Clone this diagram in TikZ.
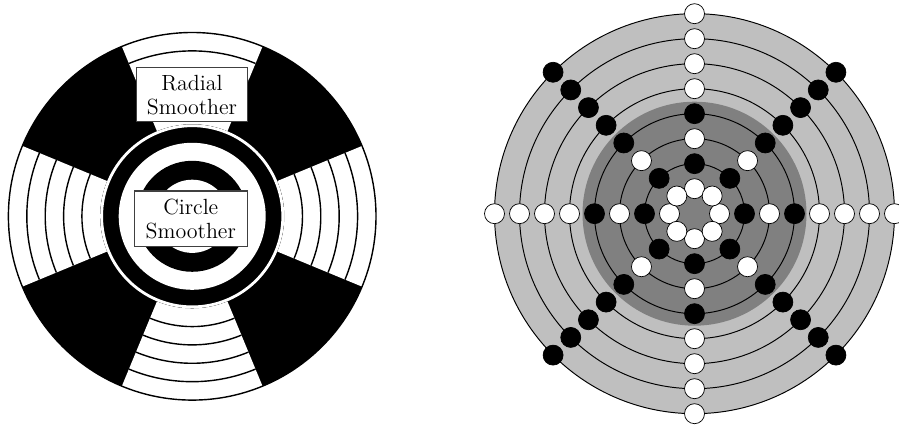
\documentclass[tikz,border=0pt]{standalone}
\usepackage{tikz}
\tikzset{
  smoother/.style={draw=black!75,line width=0.8pt,fill=white,inner sep=0pt,align=center,
    font=\fontsize{12.5}{13.6}\selectfont},
  wedgeline/.style={line width=0.8pt},
  ringline/.style={line width=0.55pt},
  whitedot/.style={draw=black,line width=0.4pt,fill=white},
  blackdot/.style={draw=black,line width=0.4pt,fill=black}
}
\begin{document}
\begin{tikzpicture}[x=0.02cm,y=0.02cm]
\useasboundingbox (0,0) rectangle (899,425);
% left: smoothers
\begin{scope}[shift={(192.2,208.7)}]
  \fill[black] (0,0) circle (183.8);
  \foreach \a in {0,90,180,270}{
    \fill[white] (\a-22.5:92) arc[start angle=\a-22.5,end angle=\a+22.5,radius=92]
      -- (\a+22.5:183.8) arc[start angle=\a+22.5,end angle=\a-22.5,radius=183.8] -- cycle;
    \foreach \r in {110.3,128.6,147,165.4}{
      \draw[wedgeline] (\a-22.5:\r) arc[start angle=\a-22.5,end angle=\a+22.5,radius=\r];
    }
  }
  \draw[wedgeline] (0,0) circle (183.8);
  \fill[black] (0,0) circle (92);
  \draw[white,line width=1.6pt] (0,0) circle (90.6);
  \fill[white] (0,0) circle (73.5);
  \fill[black] (0,0) circle (55.5);
  \fill[white] (0,0) circle (36.6);
  \node[smoother,minimum width=110.6*0.02cm,minimum height=54*0.02cm] (radial) at (-0.2,121.6) {Radial\\Smoother};
  \node[smoother,minimum width=113*0.02cm,minimum height=55.7*0.02cm] (circle) at (-1.4,-2.5) {Circle\\Smoother};
\end{scope}
% right: grid
\begin{scope}[shift={(694.5,211.3)}]
  \fill[black!25] (0,0) circle (200);
  \fill[black!50] (0,0) circle (112);
  \foreach \r in {1,...,8}{\draw[ringline] (0,0) circle (25*\r);}
  \foreach \a in {0,90,180,270}{
    \foreach \r in {1,3,5,6,7,8}{\path[whitedot] (\a:25*\r) circle (10);}
    \foreach \r in {2,4}{\path[blackdot] (\a:25*\r) circle (10);}
  }
  \foreach \a in {45,135,225,315}{
    \foreach \r in {1,3}{\path[whitedot] (\a:25*\r) circle (10);}
    \foreach \r in {2,4,5,6,7,8}{\path[blackdot] (\a:25*\r) circle (10);}
  }
\end{scope}
\end{tikzpicture}
\end{document}
